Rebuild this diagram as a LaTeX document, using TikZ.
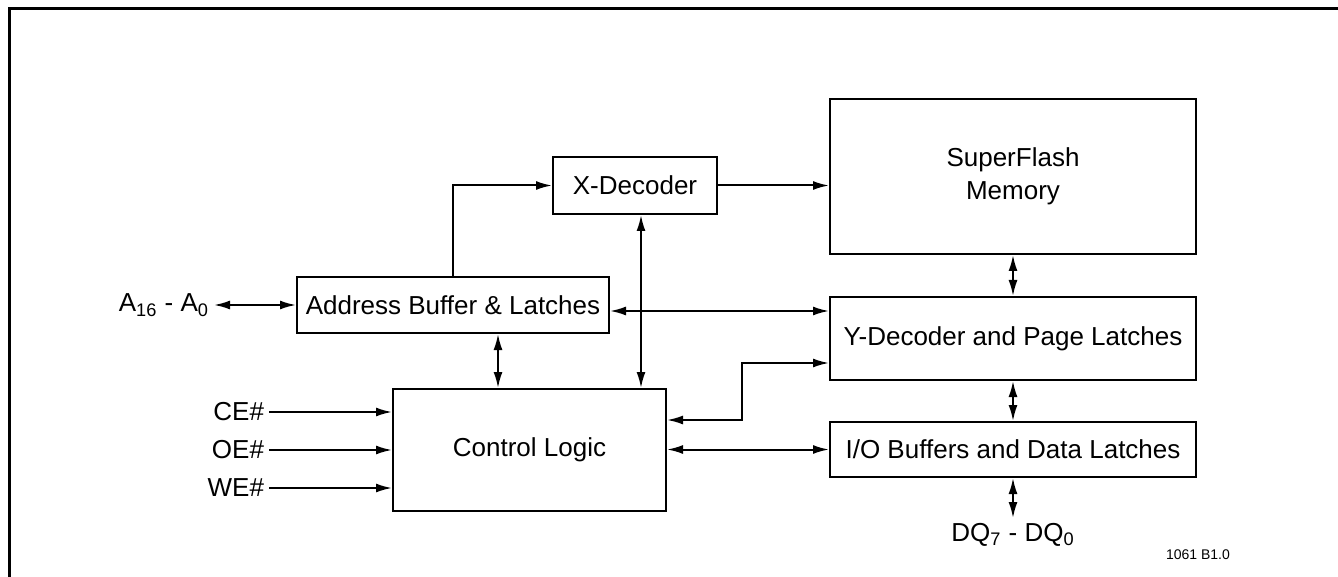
\documentclass[tikz,border=0pt]{standalone}
\usepackage{fontspec}
\setmainfont{Liberation Sans}
\usetikzlibrary{arrows.meta}

\begin{document}
\begin{tikzpicture}[
    x=0.5pt, y=-0.5pt,
    font=\fontsize{13pt}{16.5pt}\selectfont,
    >={Latex[length=8pt,width=4.5pt]},
    line width=1pt,
    block/.style={
      draw,
      minimum width=183pt
    },
    pin/.style={inner sep=2pt}
  ]

  \useasboundingbox (0,0) rectangle (1338,577);
  \draw[line width=1.5pt] (9,577) -- (9,9) -- (1338,9);

  \node[block, minimum width=82pt, minimum height=28.5pt] (xdec) at (635,185.5) {X-Decoder};
  \node[block, minimum width=156pt, minimum height=28pt] (abuf) at (453,305) {Address Buffer \& Latches};
  \node[block, minimum width=136.5pt, minimum height=61pt] (ctrl) at (529.5,450) {Control Logic};

  \node[block, minimum height=77.5pt, align=center] (mem) at (1013,176.5) {SuperFlash\\Memory};
  \node[block, minimum height=41.5pt] (ydec) at (1013,338.5) {Y-Decoder and Page Latches};
  \node[block, minimum height=27.5pt] (io) at (1013,449.5) {I/O Buffers and Data Latches};

  \node[pin, anchor=east] (addr) at (214,305) {A\textsubscript{16} - A\textsubscript{0}};
  \node[pin, anchor=east] (ce) at (269,412) {CE\#};
  \node[pin, anchor=east] (oe) at (269,450) {OE\#};
  \node[pin, anchor=east] (we) at (269,488) {WE\#};
  \node[pin, anchor=north] (dq) at (1013,518) {DQ\textsubscript{7} - DQ\textsubscript{0}};
  \node[font=\fontsize{7pt}{8pt}\selectfont] (fig) at (1198,555) {1061 B1.0};

  \coordinate (xbus) at (641,0);
  \coordinate (abus) at (498,0);
  \coordinate (yrow) at (0,311);
  \coordinate (ylow) at (0,363);
  \coordinate (crow) at (0,420);
  \coordinate (bend) at (742,420);

  \draw[->] (abuf.north) |- (xdec.west);
  \draw[->] (xdec.east) -- (xdec.east -| mem.west);
  \draw[<->] (xdec.south -| xbus) -- (ctrl.north -| xbus);
  \draw[<->] (abuf.south -| abus) -- (ctrl.north -| abus);
  \draw[<->] (abuf.east |- yrow) -- (ydec.west |- yrow);
  \draw[<->] (ctrl.east |- crow) -- (bend) |- (ydec.west |- ylow);
  \draw[<->] (ctrl.east |- io.west) -- (io.west);

  \draw[<->] (mem.south) -- (ydec.north);
  \draw[<->] (ydec.south) -- (io.north);
  \draw[<->] (io.south) -- (dq.north);

  \draw[<->] (addr.east) -- (abuf.west);
  \draw[->] (ce.east) -- (ctrl.west |- ce.east);
  \draw[->] (oe.east) -- (ctrl.west |- oe.east);
  \draw[->] (we.east) -- (ctrl.west |- we.east);

\end{tikzpicture}
\end{document}
